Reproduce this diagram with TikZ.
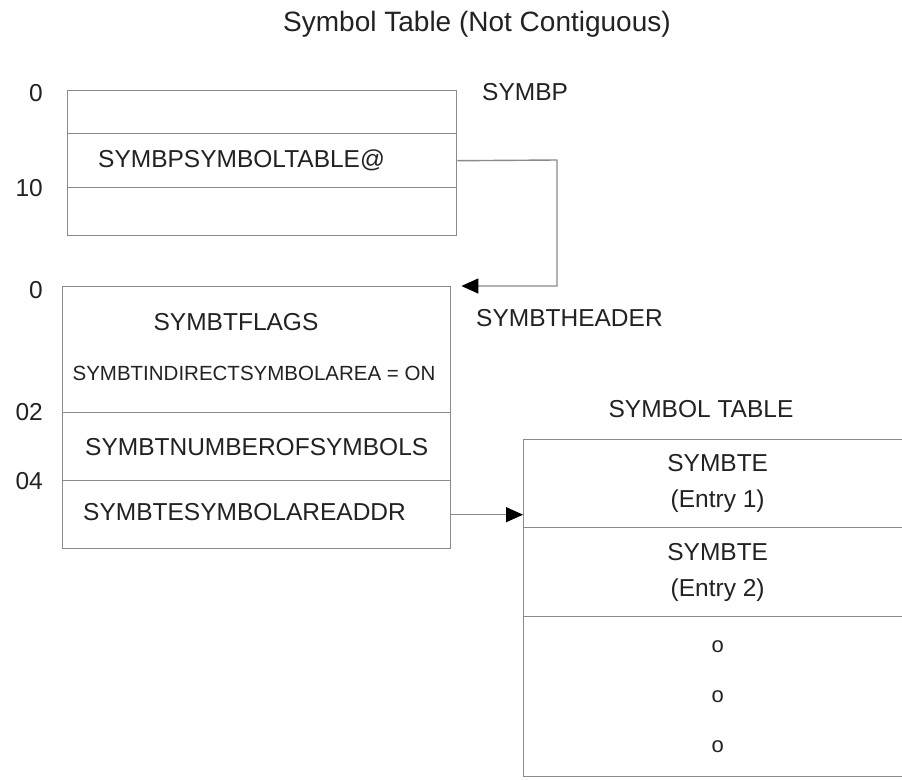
\documentclass[tikz,border=0pt]{standalone}
\usepackage{fontspec}
\setmainfont{Liberation Sans}
\usetikzlibrary{arrows.meta,positioning}
\definecolor{ink}{HTML}{222222}
\definecolor{rulegray}{HTML}{8A8A8A}
\tikzset{
  >={Triangle[length=17pt,width=15pt,color=black]},
  row/.style={draw=rulegray,line width=1.4pt,inner sep=0pt,anchor=north west,text=ink,
    font=\fontsize{24.5}{36}\selectfont,align=center},
  lbl/.style={inner sep=0pt,text=ink,font=\fontsize{24.5}{30}\selectfont},
  offset/.style={lbl,anchor=east},
  link/.style={->,draw=rulegray,line width=1.4pt},
}
\begin{document}
\begin{tikzpicture}[x=1pt,y=-1pt]
  \useasboundingbox (0,0) rectangle (902,779);
  \node[lbl,font=\fontsize{28}{32}\selectfont] (title) at (477,24) {Symbol Table (Not Contiguous)};

  % SYMBP
  \node[row,minimum width=389pt,minimum height=43pt] (p0) at (67,90) {};
  \node[row,minimum width=389pt,minimum height=54pt] (p1) at (67,133) {};
  \node[row,minimum width=389pt,minimum height=48pt] (p2) at (67,187) {};
  \node[lbl,anchor=west] (ptab) at (98,160) {SYMBPSYMBOLTABLE@};
  \node[lbl,anchor=west] (pname) at (482,92) {SYMBP};
  \node[offset] (po0) at (43,93) {0};
  \node[offset] (po10) at (43,188) {10};

  % SYMBTHEADER
  \node[row,minimum width=388pt,minimum height=126pt] (h0) at (62,286) {};
  \node[row,minimum width=388pt,minimum height=68pt] (h1) at (62,412) {SYMBTNUMBEROFSYMBOLS};
  \node[row,minimum width=388pt,minimum height=68pt] (h2) at (62,480) {};
  \node[lbl] (hflags) at (236,322) {SYMBTFLAGS};
  \node[lbl,font=\fontsize{20.5}{24}\selectfont] (hind) at (254,373) {SYMBTINDIRECTSYMBOLAREA = ON};
  \node[lbl,anchor=west] (haddr) at (83,512) {SYMBTESYMBOLAREADDR};
  \node[lbl,anchor=west] (hname) at (476,318) {SYMBTHEADER};
  \node[offset] (ho0) at (43,290) {0};
  \node[offset] (ho2) at (43,412) {02};
  \node[offset] (ho4) at (43,481) {04};

  % SYMBOL TABLE (runs off the right edge)
  \node[lbl] (tname) at (701,409) {SYMBOL TABLE};
  \node[row,minimum width=388pt,minimum height=88pt] (t0) at (523,439) {SYMBTE\\(Entry 1)};
  \node[row,minimum width=388pt,minimum height=89pt] (t1) at (523,527) {SYMBTE\\(Entry 2)};
  \node[row,minimum width=388pt,minimum height=160pt,font=\fontsize{22}{50}\selectfont] (t2) at (523,616) {o\\o\\o};

  \coordinate (bend) at (557,160);
  \draw[link] (p1.east) -- (bend) |- ([xshift=10pt]h0.north east);
  \draw[link] (h2.east) -- (h2.east -| t0.west);
\end{tikzpicture}
\end{document}
